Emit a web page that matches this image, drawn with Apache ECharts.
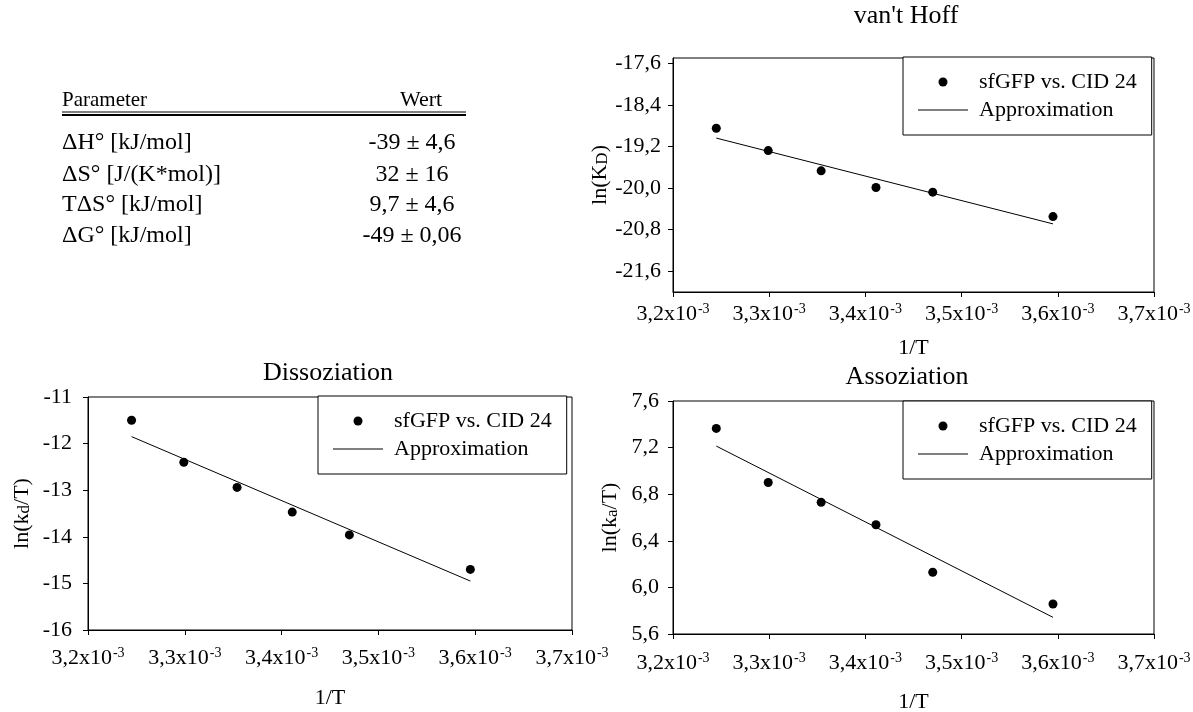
<!DOCTYPE html>
<html>
<head>
<meta charset="utf-8">
<script src="https://cdn.jsdelivr.net/npm/echarts@6/dist/echarts.min.js"></script>
<style>
html,body{margin:0;padding:0;background:#fff;}
#chart{width:1193px;height:712px;}
</style>
</head>
<body>
<div id="chart"></div>
<script>
// ---- data ----
const invT = [0.003245, 0.003299, 0.003354, 0.003411, 0.003470, 0.003595];
const fitX = [0.003245, 0.003595];
const lnKD = [-18.85, -19.28, -19.67, -19.99, -20.08, -20.55];
const fitKD = [-19.04, -20.69];
const lnKdT = [-11.50, -12.40, -12.94, -13.47, -13.96, -14.70];
const fitKdT = [-11.85, -14.95];
const lnKaT = [7.365, 6.90, 6.73, 6.538, 6.13, 5.858];
const fitKaT = [7.213, 5.743];
const vantHoffTicks = [-17.6, -18.4, -19.2, -20.0, -20.8, -21.6];
const titles = ["van't Hoff", 'Dissoziation', 'Assoziation'];
const seriesNames = ['sfGFP vs. CID 24', 'Approximation'];
const tableHeaders = ['Parameter', 'Wert'];
const paramNames = ['ΔH° [kJ/mol]', 'ΔS° [J/(K*mol)]', 'TΔS° [kJ/mol]', 'ΔG° [kJ/mol]'];
const paramValues = ['-39 ± 4,6', '32 ± 16', '9,7 ± 4,6', '-49 ± 0,06'];

const FF = '"Liberation Serif", "Times New Roman", serif';
const pairs = (xs, ys) => xs.map((x, i) => [x, ys[i]]);
const comma = (v, d) => v.toFixed(d).replace('.', ',');

const chart = echarts.init(document.getElementById('chart'), null, {renderer: 'canvas'});

const grids = [
  {left: 673, top: 58, width: 481, height: 234},
  {left: 88, top: 397, width: 484, height: 233},
  {left: 673, top: 401, width: 481, height: 233}
];

function xAxisFor(idx, labelMargin, nameGap) {
  return {
    gridIndex: idx, type: 'value', min: 0.0032, max: 0.0037, interval: 0.0001,
    name: '1/T', nameLocation: 'middle', nameGap: nameGap,
    nameTextStyle: {fontFamily: FF, fontSize: 22, color: '#000'},
    axisLine: {show: true, onZero: false, lineStyle: {color: '#000', width: 1}},
    axisTick: {show: true, inside: false, length: 5, lineStyle: {color: '#000'}},
    splitLine: {show: false},
    axisLabel: {
      margin: labelMargin, hideOverlap: false, showMinLabel: true, showMaxLabel: true,
      formatter: v => '{m|' + comma(v * 1000, 1) + 'x10}{e|-3}',
      rich: {
        m: {fontFamily: FF, fontSize: 22, color: '#000', lineHeight: 24},
        e: {fontFamily: FF, fontSize: 14, color: '#000', verticalAlign: 'top', lineHeight: 14, padding: [0, 0, 0, 1]}
      }
    }
  };
}

function yAxisFor(idx, opts) {
  const o = {
    gridIndex: idx, type: 'value', min: opts.min, max: opts.max,
    name: opts.name, nameLocation: 'middle', nameGap: opts.nameGap, nameRotate: 90,
    nameTextStyle: {
      fontFamily: FF, fontSize: 22, color: '#000',
      rich: {
        n: {fontFamily: FF, fontSize: 22, color: '#000'},
        s: {fontFamily: FF, fontSize: 17, color: '#000', verticalAlign: 'bottom'}
      }
    },
    axisLine: {show: true, onZero: false, lineStyle: {color: '#000', width: 1}},
    axisTick: {show: true, inside: false, length: 5, lineStyle: {color: '#000'}},
    splitLine: {show: false},
    axisLabel: {
      margin: opts.labelMargin, fontFamily: FF, fontSize: 22, color: '#000',
      showMinLabel: true, showMaxLabel: true,
      formatter: v => comma(v, opts.decimals)
    }
  };
  if (opts.interval) o.interval = opts.interval;
  if (opts.custom) {
    o.axisLabel.customValues = opts.custom;
    o.axisTick.customValues = opts.custom;
  }
  return o;
}

function legendFor(left, top) {
  return {
    left: left, top: top, orient: 'vertical',
    data: [
      {name: seriesNames[0], icon: 'circle', itemStyle: {color: '#000', opacity: 1}},
      {name: seriesNames[1], icon: 'path://M0,0 L50,0 L50,1 L0,1 Z', itemStyle: {color: '#000', opacity: 1}}
    ],
    itemWidth: 50, itemHeight: 9, itemGap: 6,
    padding: [14, 15, 14, 15],
    borderColor: '#000', borderWidth: 1, backgroundColor: '#fff',
    selectedMode: false,
    textStyle: {fontFamily: FF, fontSize: 22, color: '#000', padding: [0, 0, 0, 6]}
  };
}

function scatterSeries(idx, ys) {
  return {
    name: seriesNames[0], type: 'scatter', xAxisIndex: idx, yAxisIndex: idx,
    data: pairs(invT, ys), symbol: 'circle', symbolSize: 9,
    itemStyle: {color: '#000', opacity: 1}, z: 3
  };
}
function fitSeries(idx, ys) {
  return {
    name: seriesNames[1], type: 'line', xAxisIndex: idx, yAxisIndex: idx,
    data: pairs(fitX, ys), symbol: 'none', showSymbol: false,
    lineStyle: {color: '#000', width: 1}, itemStyle: {color: '#000'}, z: 2
  };
}

// graphic: titles and table
const graphics = [];
const titlePos = [[906, 16], [328, 373], [907, 377]];
titles.forEach((t, i) => {
  graphics.push({
    type: 'text', x: titlePos[i][0], y: titlePos[i][1],
    style: {text: t, font: '26px ' + FF, fill: '#000', align: 'center', verticalAlign: 'middle', textAlign: 'center', textVerticalAlign: 'middle'}
  });
});
graphics.push({type: 'text', x: 62, y: 100,
  style: {text: tableHeaders[0], font: '21px ' + FF, fill: '#000', align: 'left', verticalAlign: 'middle', textAlign: 'left', textVerticalAlign: 'middle'}});
graphics.push({type: 'text', x: 421, y: 100,
  style: {text: tableHeaders[1], font: '22px ' + FF, fill: '#000', align: 'center', verticalAlign: 'middle', textAlign: 'center', textVerticalAlign: 'middle'}});
graphics.push({type: 'line', shape: {x1: 62, y1: 112, x2: 466, y2: 112}, style: {stroke: '#000', lineWidth: 1}});
graphics.push({type: 'line', shape: {x1: 62, y1: 115, x2: 466, y2: 115}, style: {stroke: '#000', lineWidth: 2}});
const rowY = [143, 175, 205, 236];
paramNames.forEach((p, i) => {
  graphics.push({type: 'text', x: 62, y: rowY[i],
    style: {text: p, font: '24px ' + FF, fill: '#000', align: 'left', verticalAlign: 'middle', textAlign: 'left', textVerticalAlign: 'middle'}});
  graphics.push({type: 'text', x: 412, y: rowY[i],
    style: {text: paramValues[i], font: '24px ' + FF, fill: '#000', align: 'center', verticalAlign: 'middle', textAlign: 'center', textVerticalAlign: 'middle'}});
});

const option = {
  animation: false,
  backgroundColor: '#fff',
  grid: grids.map(g => Object.assign({show: true, borderColor: '#000', borderWidth: 1, backgroundColor: 'transparent', containLabel: false, outerBoundsMode: 'none'}, g)),
  xAxis: [xAxisFor(0, 10, 45), xAxisFor(1, 16, 57), xAxisFor(2, 17, 57)],
  yAxis: [
    yAxisFor(0, {min: -22.0, max: -17.5, custom: vantHoffTicks, decimals: 1, name: '{n|ln(K}{s|D}{n|)}', nameGap: 56, labelMargin: 12}),
    yAxisFor(1, {min: -16, max: -11, interval: 1, decimals: 0, name: '{n|ln(k}{s|d}{n|/T)}', nameGap: 55, labelMargin: 16}),
    yAxisFor(2, {min: 5.6, max: 7.6, interval: 0.4, decimals: 1, name: '{n|ln(k}{s|a}{n|/T)}', nameGap: 52, labelMargin: 14})
  ],
  legend: [legendFor(903, 57), legendFor(318, 396), legendFor(903, 401)],
  series: [
    scatterSeries(0, lnKD), fitSeries(0, fitKD),
    scatterSeries(1, lnKdT), fitSeries(1, fitKdT),
    scatterSeries(2, lnKaT), fitSeries(2, fitKaT)
  ],
  graphic: graphics
};
chart.setOption(option);
</script>
</body>
</html>
